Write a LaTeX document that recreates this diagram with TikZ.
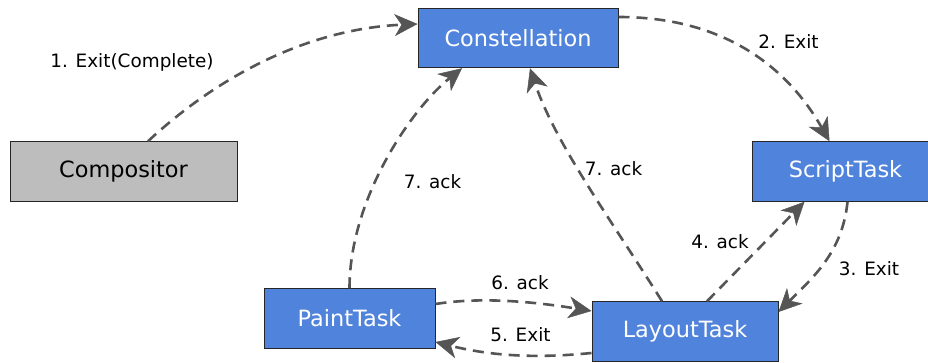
\documentclass[tikz,border=0pt]{standalone}
\usepackage{fontspec}
\setmainfont{DejaVu Sans}
\usetikzlibrary{arrows.meta}
\definecolor{taskblue}{HTML}{5083DB}
\definecolor{compgray}{HTML}{BDBDBD}
\definecolor{edgegray}{HTML}{555555}
\tikzset{
  box/.style={draw=black!85, line width=1pt, inner sep=0pt,
    minimum height=59.5pt, font=\fontsize{22.4}{26}\selectfont},
  task/.style={box, fill=taskblue, text=white},
  host/.style={box, fill=compgray, text=black},
  msg/.style={draw=edgegray, line width=2.6pt, dash pattern=on 11pt off 7pt,
    -{Stealth[length=23pt, width=22pt, inset=7pt, fill=edgegray, line width=0.5pt]}},
  lbl/.style={font=\fontsize{18.4}{22}\selectfont, inner sep=0pt}
}
\begin{document}
\begin{tikzpicture}[x=1pt, y=-1pt]
  \useasboundingbox (0,0) rectangle (928,363);
  \begin{scope}
    \clip (0,0) rectangle (928,363);
    % process boxes
    \node[task, minimum width=200pt] (const)  at (518,38)    {Constellation};
    \node[host, minimum width=227pt] (comp)   at (123.5,171.5) {Compositor};
    \node[task, minimum width=187pt] (script) at (845.5,171.5) {ScriptTask};
    \node[task, minimum width=171pt] (paint)  at (349.5,318.5) {PaintTask};
    \node[task, minimum width=186pt] (layout) at (685,331.5)  {LayoutTask};

    % messages
    \draw[msg] ([xshift=24.5pt]comp.north) .. controls +(70,-65) and +(-110,5) .. ([yshift=14pt]const.west);
    \draw[msg] ([yshift=21pt]const.east) .. controls +(110,0) and +(-40,-70) .. ([xshift=-16pt]script.north);
    \draw[msg] ([xshift=2pt]script.south) .. controls +(-5,50) and +(35,-35) .. ([yshift=19.5pt]layout.east);
    \draw[msg] ([xshift=22pt]layout.north) -- ([xshift=-41pt]script.south);
    \draw[msg] ([yshift=-21.5pt]layout.west) .. controls +(-50,5) and +(60,15) .. ([yshift=-23.5pt]paint.east);
    \draw[msg] ([yshift=14.5pt]paint.east) .. controls +(50,-8) and +(-50,-8) .. ([yshift=20.5pt]layout.west);
    \draw[msg] ([xshift=-23pt]layout.north) .. controls +(-50,-80) and +(25,75) .. ([xshift=12pt]const.south);
    \draw[msg] (paint.north) .. controls +(0,-90) and +(-50,40) .. ([xshift=-56pt]const.south);

    % message labels
    \node[lbl] (l1)  at (132,62)    {1. Exit(Complete)};
    \node[lbl] (l2)  at (788.5,42)  {2. Exit};
    \node[lbl] (l3)  at (869,269)   {3. Exit};
    \node[lbl] (l4)  at (720,242)   {4. ack};
    \node[lbl] (l5)  at (520.5,335) {5. Exit};
    \node[lbl] (l6)  at (520,283)   {6. ack};
    \node[lbl] (l7a) at (613.5,169) {7. ack};
    \node[lbl] (l7b) at (432.5,182) {7. ack};
  \end{scope}
\end{tikzpicture}
\end{document}
